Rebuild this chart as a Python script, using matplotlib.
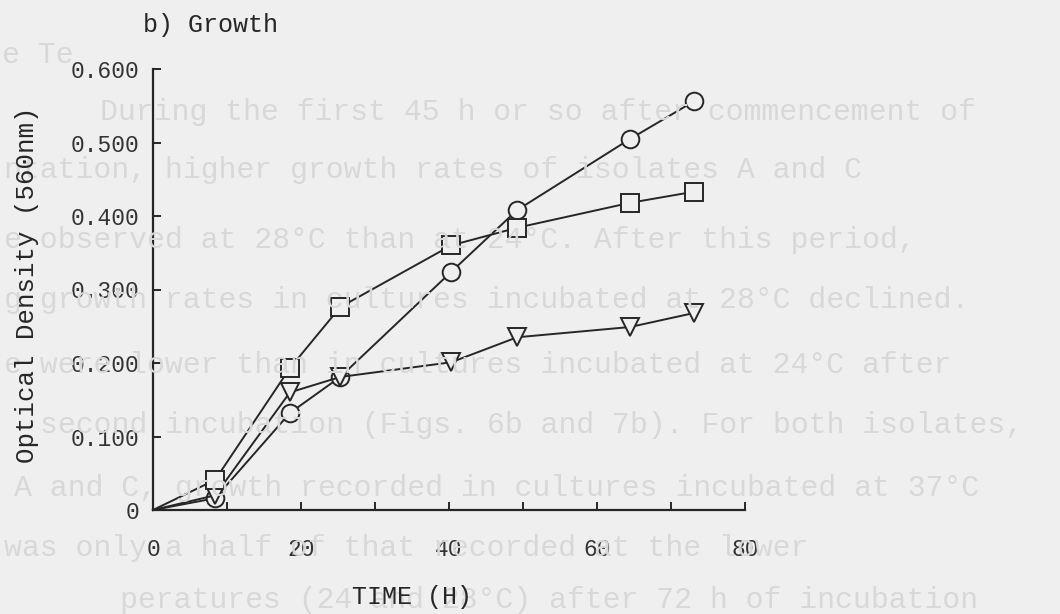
import matplotlib
matplotlib.use("Agg")
import matplotlib.pyplot as plt

# sampling times (h) and optical density at 560 nm for the three cultures
time_h = [0, 8.4, 18.5, 25.3, 40.3, 49.2, 64.5, 73.1]
od_circle = [0, 0.016, 0.132, 0.181, 0.324, 0.408, 0.505, 0.556]
od_square = [0, 0.041, 0.193, 0.276, 0.360, 0.384, 0.418, 0.433]
od_triangle = [0, 0.020, 0.160, 0.181, 0.201, 0.235, 0.249, 0.268]

y_ticks = [0, 0.1, 0.2, 0.3, 0.4, 0.5, 0.6]
y_tick_labels = ["0", "0.100", "0.200", "0.300", "0.400", "0.500", "0.600"]
x_ticks = [0, 20, 40, 60, 80]

# faint page text showing through behind the figure (left x px, y px, text)
page_lines = [
    (2, 55, "e Te"),
    (100, 112, "During the first 45 h or so after commencement of"),
    (4, 170, "ntation, higher growth rates of isolates A and C"),
    (4, 240, "e observed at 28°C than at 24°C. After this period,"),
    (4, 300, "g growth rates in cultures incubated at 28°C declined."),
    (4, 365, "e were lower than in cultures incubated at 24°C after"),
    (40, 425, "second incubation (Figs. 6b and 7b). For both isolates,"),
    (14, 488, "A and C, growth recorded in cultures incubated at 37°C"),
    (4, 548, "was only a half of that recorded at the lower"),
    (120, 600, "peratures (24 and 28°C) after 72 h of incubation"),
]

BG = "#efefef"
INK = "#262626"
W, H = 1060, 614

fig = plt.figure(figsize=(W / 100, H / 100), dpi=100, facecolor=BG)

for x_px, y_px, line in page_lines:
    fig.text(x_px / W, 1 - y_px / H, line, ha="left", va="center",
             family="Liberation Mono", fontsize=21.5, color="#d8d8d8", zorder=0)

ax = fig.add_axes([153 / W, 104 / H, 592 / W, 441 / H])
ax.set_facecolor("none")

mk = dict(color=INK, lw=1.4, mfc=BG, mec=INK, mew=1.4, markevery=slice(1, None),
          clip_on=False)
ax.plot(time_h, od_circle, marker="o", ms=12.7, **mk)
ax.plot(time_h, od_triangle, marker="v", ms=12.5, **mk)
ax.plot(time_h, od_square, marker="s", ms=12.8, **mk)

ax.set_xlim(0, 80)
ax.set_ylim(0, 0.6)
for side in ("top", "right"):
    ax.spines[side].set_visible(False)
for side in ("left", "bottom"):
    ax.spines[side].set_linewidth(1.6)
    ax.spines[side].set_color(INK)

ax.set_xticks(x_ticks)
ax.set_xticks([10, 30, 50, 70], minor=True)
ax.set_yticks(y_ticks)
ax.set_yticklabels(y_tick_labels)
ax.tick_params(which="both", direction="in", length=6, width=1.4, color=INK,
               labelcolor="#333333", labelsize=16.5)
ax.tick_params(axis="y", pad=10)
ax.tick_params(axis="x", pad=20)
for lab in ax.get_xticklabels() + ax.get_yticklabels():
    lab.set_family("Liberation Mono")

fig.text(143 / W, 1 - 25 / H, "b) Growth", ha="left", va="center",
         family="Liberation Mono", fontsize=18, color=INK)
fig.text(27 / W, 1 - 285 / H, "Optical Density (560nm)", ha="center", va="center",
         rotation=90, family="Liberation Mono", fontsize=18.5, color=INK)
fig.text(412 / W, 1 - 597 / H, "TIME (H)", ha="center", va="center",
         family="Liberation Mono", fontsize=18, color=INK)

fig.savefig("out.png", dpi=100, facecolor=BG)
